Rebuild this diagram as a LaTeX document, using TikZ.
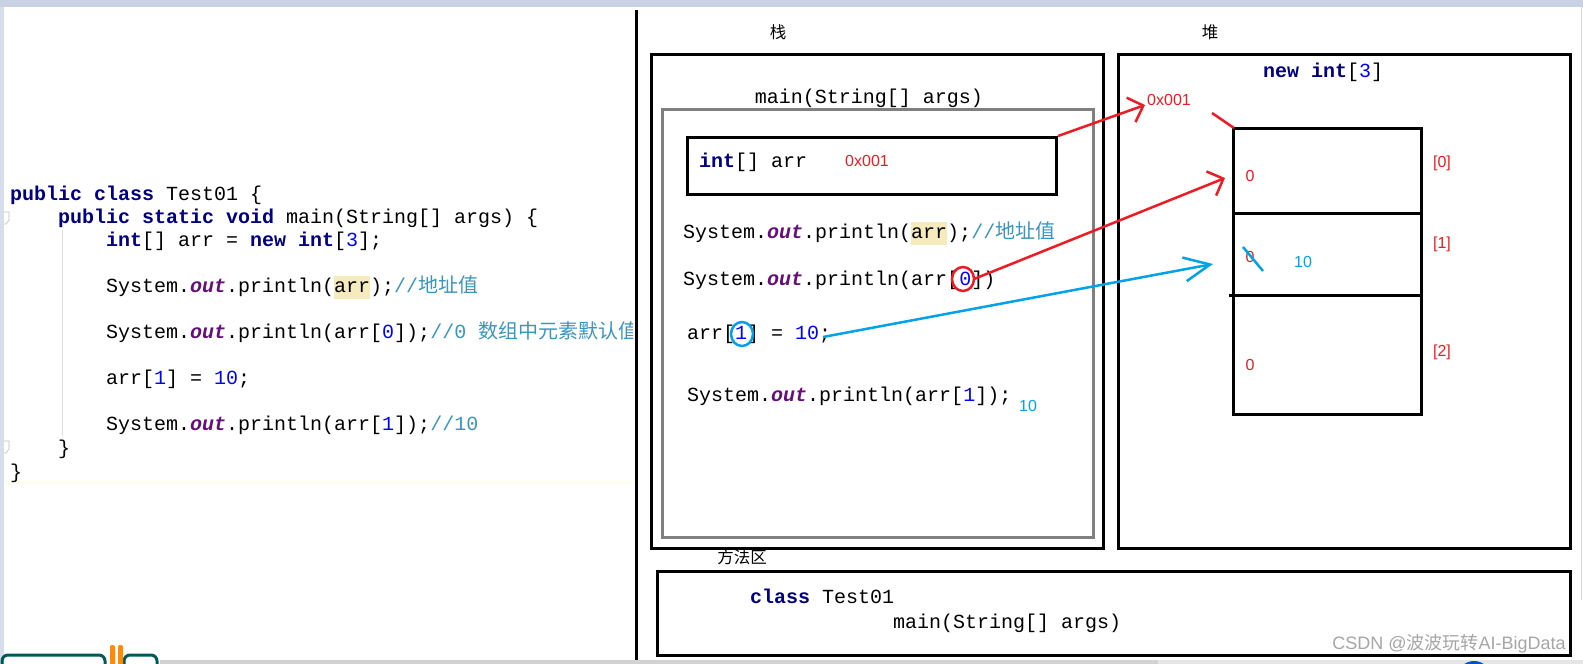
\documentclass[tikz,border=0pt]{standalone}
\usepackage{fontspec}
\setmainfont{Liberation Serif}
\setsansfont{Liberation Sans}
\setmonofont{Liberation Mono}
\newfontfamily\cjk{Noto Sans CJK SC}
\usetikzlibrary{arrows.meta}
\definecolor{kw}{RGB}{0,0,128}
\definecolor{outc}{RGB}{102,14,122}
\definecolor{num}{RGB}{0,0,255}
\definecolor{cmt}{RGB}{58,150,190}
\definecolor{hlc}{RGB}{246,235,188}
\definecolor{pred}{RGB}{237,28,36}
\definecolor{pblue}{RGB}{0,162,232}
\definecolor{edgebar}{RGB}{200,210,226}
\definecolor{edgeside}{RGB}{214,222,236}
\newcommand\kw[1]{{\bfseries\color{kw}#1}}
\newcommand\outkw{{\bfseries\itshape\color{outc}out}}
\newcommand\nm[1]{{\color{num}#1}}
\newcommand\hlarr[1]{{\setlength\fboxsep{0pt}\colorbox{hlc}{\strut #1}}}
\newcommand\cmt[1]{{\color{cmt}#1}}
\begin{document}
\begin{tikzpicture}[x=1pt,y=-1pt,
  code/.style={anchor=base west, inner sep=0pt, font=\ttfamily\fontsize{20}{23}\selectfont},
  codec/.style={anchor=base, inner sep=0pt, font=\ttfamily\fontsize{20}{23}\selectfont},
  lab/.style={inner sep=0pt, font=\sffamily\fontsize{16}{18}\selectfont},
  cjklab/.style={inner sep=0pt, font=\cjk\fontsize{16.5}{18}\selectfont},
  box/.style={draw=black, line width=3pt, inner sep=0pt, anchor=north west},
  redarrow/.style={draw=pred, line width=2.5pt, -{Straight Barb[length=13pt,width=26pt]}},
  bluearrow/.style={draw=pblue, line width=2.5pt, -{Straight Barb[length=26pt,width=24pt]}},
  penline/.style={line width=2.5pt}
]
\useasboundingbox (0,0) rectangle (1583,664);
\fill[white] (0,0) rectangle (1583,664);
% editor frame
\fill[edgebar] (0,0) rectangle (1583,7);
\fill[edgeside] (0,7) rectangle (4,664);
\draw[gray!30, line width=1pt] (1581,7) -- (1581,600);
\fill[yellow!8] (5,481) rectangle (632,484);
\draw[gray!25, line width=1pt] (62,230) -- (62,436);
\draw[gray!50, line width=0.6pt] (4,212) -- (9,212) -- (9,220) -- (6,224) -- (4,224);
\draw[gray!50, line width=0.6pt] (4,441) -- (9,441) -- (9,449) -- (6,453) -- (4,453);

% code
\node[code] (l1) at (10,200) {\kw{public} \kw{class} Test01 \{};
\node[code] (l2) at (58,223) {\kw{public} \kw{static} \kw{void} main(String[] args) \{};
\node[code] (l3) at (106,246) {\kw{int}[] arr = \kw{new} \kw{int}[\nm{3}];};
\node[code] (l4) at (106,292) {System.\outkw.println(\hlarr{arr});\cmt{//{\cjk 地址值}}};
\begin{scope}
\clip (0,0) rectangle (632,664);
\node[code] (l5) at (106,338) {System.\outkw.println(arr[\nm{0}]);\cmt{//0 {\cjk 数组中元素默认值}}};
\end{scope}
\node[code] (l6) at (106,384) {arr[\nm{1}] = \nm{10};};
\node[code] (l7) at (106,430) {System.\outkw.println(arr[\nm{1}]);\cmt{//10}};
\node[code] (l8) at (58,454) {\}};
\node[code] (l9) at (10,478) {\}};

% divider
\draw[black, line width=3pt] (636,10) -- (636,664);

% stack
\node[cjklab] (zhan) at (778,32) {栈};
\node[box, minimum width=452pt, minimum height=494pt] (stack) at (650,53) {};
\node[codec] (mainlab) at (869,103) {main(String[] args)};
\node[box, draw=gray, minimum width=431pt, minimum height=428pt] (frame) at (661,108) {};
\node[box, minimum width=369pt, minimum height=57pt] (intbox) at (686,136) {};
\node[code] (intarr) at (699,167) {\kw{int}[] arr};
\node[lab, text=pred] (addr1) at (867,161) {0x001};
\node[code] (s1) at (683,238) {System.\outkw.println(\hlarr{arr});\cmt{//{\cjk 地址值}}};
\node[code] (s2) at (683,285) {System.\outkw.println(arr[\nm{0}])};
\node[code] (s3) at (687,339) {arr[\nm{1}] = \nm{10};};
\node[code] (s4) at (687,401) {System.\outkw.println(arr[\nm{1}]);};
\node[lab, text=pblue] (out10) at (1028,406) {10};
\draw[pred, penline] (963,279) ellipse [x radius=11, y radius=12];
\coordinate (c0) at (974,279);
\draw[pblue, penline] (742,334) ellipse [x radius=11, y radius=12];
\coordinate (c1) at (823,337);

% heap
\node[cjklab] (dui) at (1210,32) {堆};
\node[box, minimum width=452pt, minimum height=494pt] (heap) at (1117,53) {};
\node[codec] (newint) at (1323,77) {\kw{new} \kw{int}[\nm{3}]};
\node[lab, text=pred] (addr2) at (1169,100) {0x001};
\node[box, minimum width=188pt, minimum height=286pt] (cells) at (1232,127) {};
\draw[line width=3pt] (1232,213) -- (1420,213);
\draw[line width=3pt] (1229,295) -- (1420,295);
\node[lab, text=pred] (v0) at (1250,176) {0};
\node[lab, text=pred] (v1) at (1250,257) {0};
\node[lab, text=pred] (v2) at (1250,365) {0};
\node[lab, text=pblue] (v1new) at (1303,262) {10};
\node[lab, text=pred] (i0) at (1442,163) {[0]};
\node[lab, text=pred] (i1) at (1442,244) {[1]};
\node[lab, text=pred] (i2) at (1442,352) {[2]};
\draw[pblue, penline] (1243,247) -- (1263,271);
\draw[pred, penline] (1212,113) -- (1234,128);

% arrows
\coordinate (a1e) at (1145,105);
\coordinate (a2e) at (1225,178);
\coordinate (a3e) at (1213,264);
\draw[redarrow] (intbox.north east) -- (a1e);
\draw[redarrow] (c0) -- (a2e);
\draw[bluearrow] (c1) -- (a3e);

% method area
\node[cjklab] (ff) at (742,557) {方法区};
\node[box, minimum width=913pt, minimum height=84pt] (method) at (656,570) {};
\node[code] (m1) at (750,603) {\kw{class} Test01};
\node[code] (m2) at (893,628) {main(String[] args)};
\node[inner sep=0pt, text=gray!70, font=\sffamily\fontsize{18}{20}\selectfont] (wm) at (1449,644) {CSDN @{\cjk 波波玩转}AI-BigData};

% bottom strip
\fill[gray!35] (160,660) rectangle (1158,664);
\fill[gray!20] (1158,660) rectangle (1583,664);
\fill[blue!60!cyan!80!black] (1474,678) circle (17);
\draw[teal!70!black, line width=3pt, rounded corners=6pt] (2,668) -- (2,655) -- (105,655) -- (105,668);
\draw[teal!70!black, line width=3pt, rounded corners=6pt] (124,668) -- (124,655) -- (157,655) -- (157,668);
\fill[orange!90!yellow, rounded corners=2pt] (110,645) rectangle (115,666);
\fill[orange!90!yellow, rounded corners=2pt] (118,645) rectangle (123,666);
\end{tikzpicture}
\end{document}
